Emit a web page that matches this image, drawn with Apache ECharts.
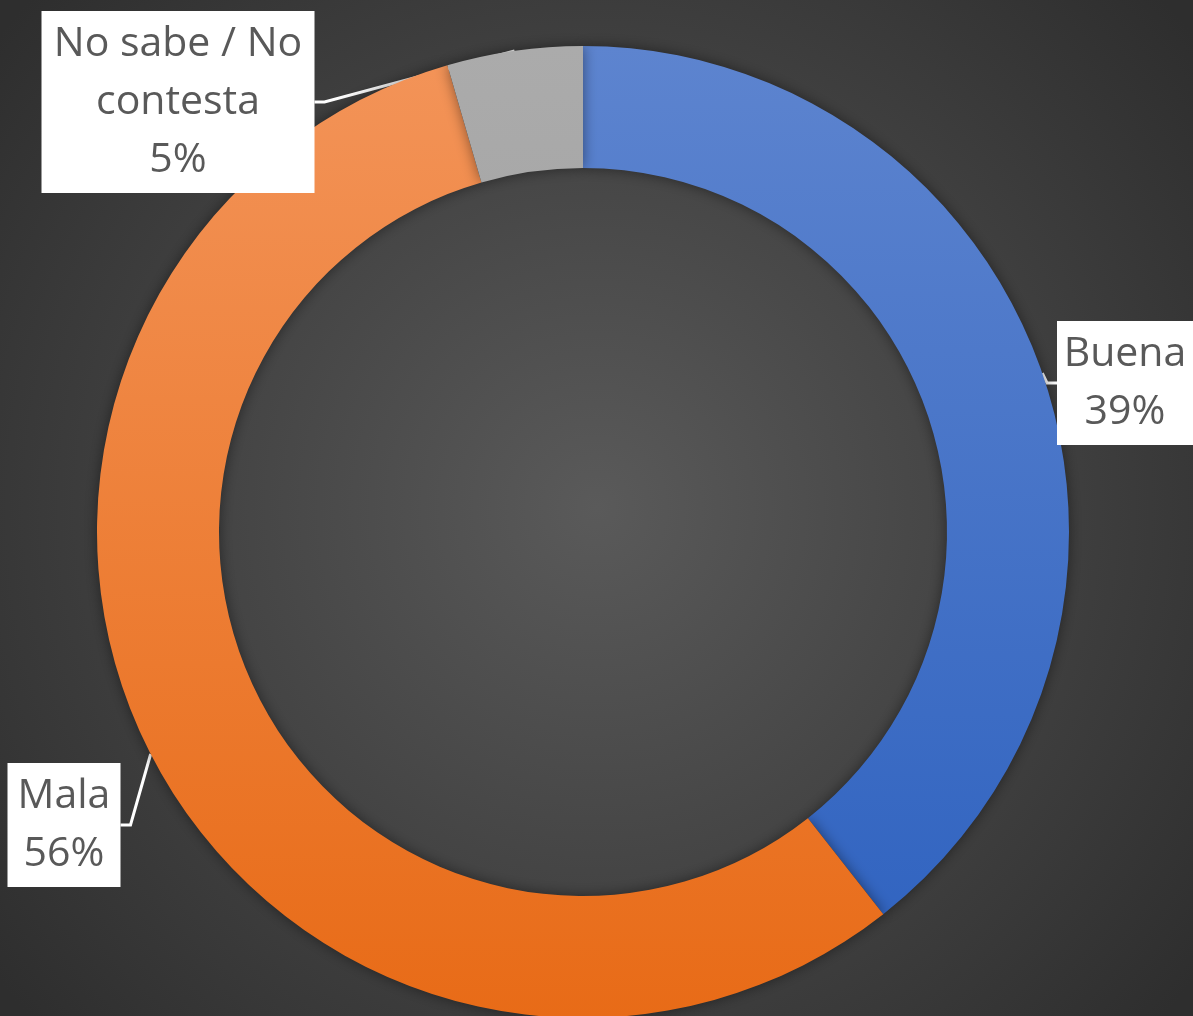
<!DOCTYPE html>
<html>
<head>
<meta charset="utf-8">
<script src="https://cdn.jsdelivr.net/npm/echarts@6/dist/echarts.min.js"></script>
<style>html,body{margin:0;padding:0;background:#444;}#c{width:1193px;height:1016px;}</style>
</head>
<body>
<div id="c"></div>
<script>
var categories = ['Buena', 'Mala', 'No sabe / No contesta'];
var labelTexts = ['Buena', 'Mala', 'No sabe / No\ncontesta'];
var values = [39.4, 56.1, 4.5];

var labelBoxes = [
  {x: 1125, y: 383, w: 120},
  {x: 64, y: 825, w: 97},
  {x: 178, y: 102, w: 257}
];
var fills = [
  ['#5d84cf', '#2d61bf'],
  ['#f39459', '#e86b17'],
  ['#ababab', '#979797']
];

function grad(c) {
  return {type: 'linear', x: 0, y: 46, x2: 0, y2: 1018, global: true,
    colorStops: [{offset: 0, color: c[0]}, {offset: 1, color: c[1]}]};
}

var chart = echarts.init(document.getElementById('c'));
chart.setOption({
  backgroundColor: {type: 'radial', x: 0.5, y: 0.5, r: 0.75,
    colorStops: [{offset: 0, color: '#5a5a5a'}, {offset: 1, color: '#2e2e2e'}]},
  animation: false,
  series: [{
    type: 'pie',
    center: [583, 532],
    radius: [364, 486],
    startAngle: 90,
    clockwise: true,
    percentPrecision: 0,
    data: categories.map(function (c, i) {
      return {name: c, value: values[i], itemStyle: {color: grad(fills[i])}};
    }),
    itemStyle: {shadowBlur: 14, shadowColor: 'rgba(0,0,0,0.45)'},
    label: {
      show: true,
      position: 'outside',
      overflow: 'none',
      formatter: function (p) { return labelTexts[p.dataIndex] + '\n' + p.percent + '%'; },
      color: '#595959',
      fontFamily: 'Open Sans',
      fontSize: 41,
      lineHeight: 58,
      align: 'center',
      backgroundColor: '#ffffff',
      padding: [4, 8, 4, 8]
    },
    labelLine: {show: true, length: 10, length2: 10, smooth: false,
      lineStyle: {color: '#ffffff', width: 3}},
    labelLayout: function (p) {
      var lb = labelBoxes[p.dataIndex];
      return {x: lb.x, y: lb.y, width: lb.w, align: 'center', verticalAlign: 'middle'};
    },
    emphasis: {disabled: true}
  }]
});
</script>
</body>
</html>
